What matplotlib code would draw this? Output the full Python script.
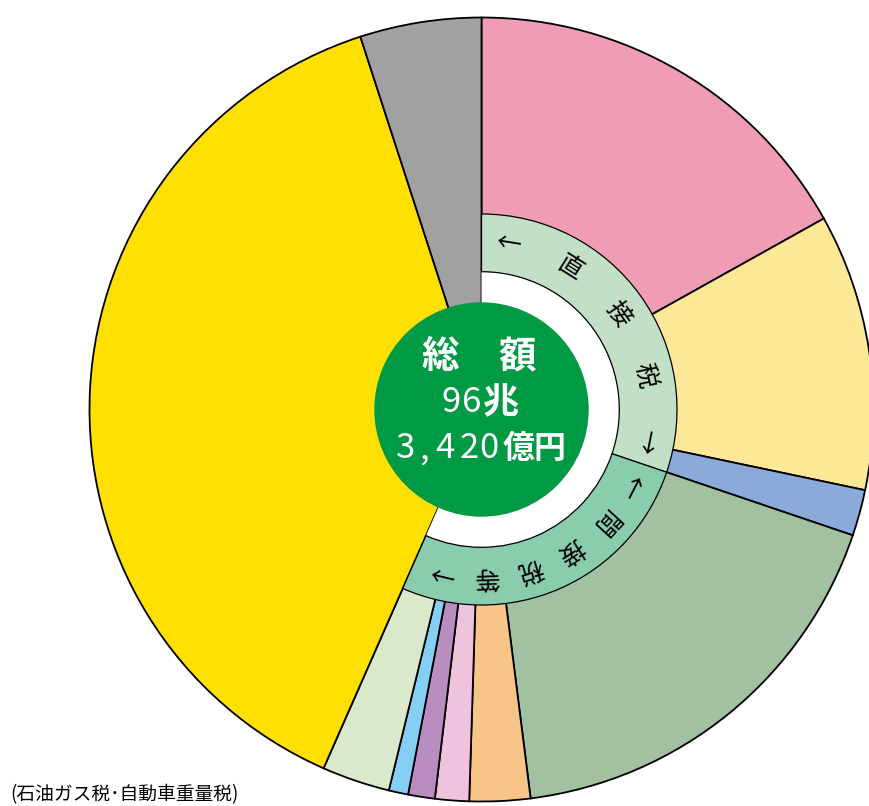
import matplotlib
matplotlib.use("Agg")
import matplotlib.pyplot as plt
import numpy as np

plt.rcParams['font.family'] = ['Noto Sans CJK JP', 'DejaVu Sans']

# shares of total tax revenue (%), clockwise from 12 o'clock
shares = [16.9, 11.4, 1.9, 17.8, 2.5, 1.4, 1.1, 0.8, 2.8, 38.4, 5.0]
colors = ['#F19CB5', '#FDE897', '#8AABD9', '#A1C1A1', '#F8C588', '#EFC3DD',
          '#B98DBF', '#84CFF3', '#DAE8CC', '#FFE000', '#A0A1A0']

# inner ring: direct taxes = first 3 wedges, indirect = next 6, rest has no ring
n_direct, n_indirect = 3, 6
ring_labels = [['←', '直', '接', '税', '→'], ['←', '間', '接', '税', '等', '→']]
ring_colors = ['#C2E0C5', '#89CCAE']

center_line1 = ['総', '額']
center_line2 = ['9', '6', '兆']
center_line3 = ['3', ',', '4', '2', '0', '億', '円']
caption = '(石油ガス税･自動車重量税)'

W, H = 870, 806
fig = plt.figure(figsize=(W / 100, H / 100), dpi=100)
ax = fig.add_axes([0, 0, 1, 1])

cx, cy = 481.5, H - 409.5
R = 392
r_ring_out, r_ring_in, r_green = 195.5, 137.8, 106.5

ax.pie(shares, colors=colors, startangle=90, counterclock=False,
       center=(cx, cy), radius=R, frame=True,
       wedgeprops=dict(edgecolor='black', linewidth=1.3))

direct = sum(shares[:n_direct])
indirect = sum(shares[n_direct:n_direct + n_indirect])
rest = sum(shares[n_direct + n_indirect:])
ring_vals = [direct, indirect, rest]

# white gap between ring and centre disc (only where the ring is)
ax.pie([direct + indirect, rest], colors=['white', 'none'], startangle=90,
       counterclock=False, center=(cx, cy), radius=r_ring_in,
       frame=True, wedgeprops=dict(edgecolor='none'))
w_ring, _ = ax.pie(ring_vals, colors=ring_colors + ['none'], startangle=90,
                   counterclock=False, center=(cx, cy), radius=r_ring_out,
                   frame=True,
                   wedgeprops=dict(width=r_ring_out - r_ring_in,
                                   edgecolor='black', linewidth=0.9))
w_ring[2].set_edgecolor('none')

ax.add_patch(plt.Circle((cx, cy), r_green, color='#009944', zorder=5))

# ring texts, laid tangentially
r_txt = (r_ring_out + r_ring_in) / 2
ring_angles = [np.linspace(80.9, -11.2, 5), np.linspace(-27.2, -103.5, 6)]
for chars, angs in zip(ring_labels, ring_angles):
    for ch, a in zip(chars, angs):
        t = np.deg2rad(a)
        ax.text(cx + r_txt * np.cos(t), cy + r_txt * np.sin(t), ch,
                fontsize=18, rotation=a - 90, rotation_mode='anchor',
                ha='center', va='center', zorder=6)

# centre text
for ch, x in zip(center_line1, [440, 517]):
    ax.text(x, H - 357, ch, color='white', fontsize=27, fontweight='bold',
            ha='center', va='center', zorder=6)
for ch, x in zip(center_line2, [451, 472, 501]):
    bold = not ch.isdigit()
    ax.text(x, H - 403, ch, color='white', fontsize=26 if bold else 25,
            fontweight='bold' if bold else 'normal',
            ha='center', va='center', zorder=6)
for ch, x in zip(center_line3, [406, 424, 445, 469, 489, 519, 549]):
    bold = not (ch.isdigit() or ch == ',')
    ax.text(x, H - 449, ch, color='white', fontsize=23 if bold else 25,
            fontweight='bold' if bold else 'normal',
            ha='center', va='center', zorder=6)

ax.text(10, H - 795, caption, fontsize=13.5, ha='left', va='center')

ax.set_xlim(0, W)
ax.set_ylim(0, H)
ax.set_aspect('equal')
ax.axis('off')

fig.savefig('out.png', dpi=100)
